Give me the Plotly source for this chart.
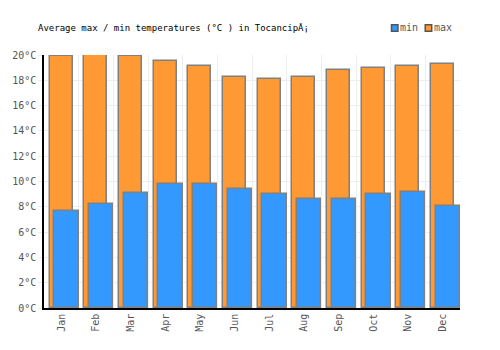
import plotly.graph_objects as go

months = ["Jan", "Feb", "Mar", "Apr", "May", "Jun", "Jul", "Aug", "Sep", "Oct", "Nov", "Dec"]
max_temps = [19.9, 20.0, 19.9, 19.5, 19.1, 18.3, 18.1, 18.3, 18.85, 19.0, 19.15, 19.3]
min_temps = [7.7, 8.2, 9.1, 9.8, 9.8, 9.4, 9.0, 8.65, 8.6, 9.05, 9.15, 8.1]
series_names = ["min", "max"]
title_text = "Average max / min temperatures (°C ) in TocancipÃ¡"

FONT = "DejaVu Sans Mono"
MAX_COLOR = "#FF9933"
MIN_COLOR = "#3399FF"
EDGE = "#808080"

W, H = 500, 350
L, R, T, B = 41, 40, 55, 42
PW, PH = W - L - R, H - T - B


def px_x(px):
    return (px - L) / PW


def px_y(py):
    return (H - B - py) / PH


fig = go.Figure()
fig.add_trace(go.Bar(
    x=months, y=max_temps, name=series_names[1], showlegend=False,
    marker=dict(color=MAX_COLOR, line=dict(color=EDGE, width=1.5)),
    offset=-0.34, width=0.67,
))
fig.add_trace(go.Bar(
    x=months, y=min_temps, name=series_names[0], showlegend=False,
    marker=dict(color=MIN_COLOR, line=dict(color=EDGE, width=1.5)),
    offset=-0.2, width=0.7,
))

# compact legend drawn as decoration (swatch + label)
shapes = []
annotations = []
for name, col, sx in [(series_names[0], MIN_COLOR, 391), (series_names[1], MAX_COLOR, 425)]:
    shapes.append(dict(type="rect", xref="paper", yref="paper",
                       x0=px_x(sx), x1=px_x(sx + 6.5), y0=px_y(31.3), y1=px_y(24.8),
                       fillcolor=col, line=dict(color="#555555", width=1.5)))
    annotations.append(dict(text=name, xref="paper", yref="paper", x=px_x(sx + 8),
                            y=px_y(28), xanchor="left", yanchor="middle", showarrow=False,
                            borderpad=0, font=dict(family=FONT, size=10, color="#555555")))

fig.update_layout(
    width=W, height=H,
    barmode="overlay",
    plot_bgcolor="white", paper_bgcolor="white",
    margin=dict(l=L, r=R, t=T, b=B),
    font=dict(family=FONT, size=10, color="#555555"),
    title=dict(text=title_text, x=38/W, xanchor="left", y=1-28/H, yanchor="middle",
               font=dict(family=FONT, size=9, color="#000000")),
    showlegend=False,
    shapes=shapes,
    annotations=annotations,
    bargap=0,
)
fig.update_xaxes(
    type="category", tickson="boundaries", showgrid=True, gridcolor="#eeeeee", gridwidth=1,
    showline=True, linecolor="#000000", linewidth=1.5, tickangle=-90, ticks="",
    tickfont=dict(family=FONT, size=10, color="#555555"), range=[-0.5, 11.5],
)
fig.update_yaxes(
    range=[0, 20], dtick=2, ticksuffix="°C", showgrid=True, gridcolor="#eeeeee", gridwidth=1,
    showline=True, linecolor="#000000", linewidth=1.5, ticks="outside", ticklen=4,
    tickcolor="#eeeeee", zeroline=False,
    tickfont=dict(family=FONT, size=10, color="#555555"),
)

fig.write_html("out.html")
